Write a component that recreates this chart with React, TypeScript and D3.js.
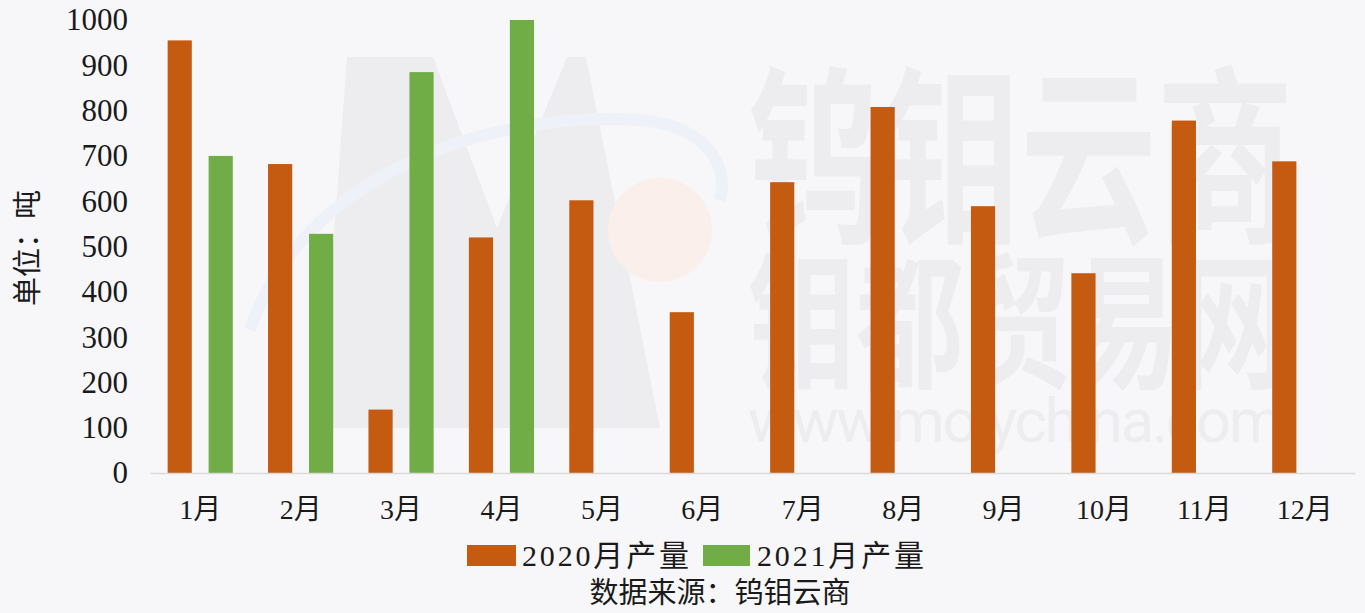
import { useEffect, useRef } from "react";
import * as d3 from "d3";

const W = 1365;
const H = 613;
const MARGIN = { top: 20, right: 10, bottom: 140, left: 150 };
const PLOT_BOTTOM = H - MARGIN.bottom;

const MONTHS = ["1月", "2月", "3月", "4月", "5月", "6月", "7月", "8月", "9月", "10月", "11月", "12月"];
const SERIES = ["2020月产量", "2021月产量"];
const OUTPUT_2020 = [955, 682, 140, 520, 602, 355, 642, 808, 589, 441, 778, 688];
const OUTPUT_2021 = [700, 528, 885, 1000, null, null, null, null, null, null, null, null];
const Y_TICKS = [0, 100, 200, 300, 400, 500, 600, 700, 800, 900, 1000];
const Y_TITLE = "单位：吨";
const SOURCE = "数据来源：钨钼云商";

const COLORS = { "2020月产量": "#c55a11", "2021月产量": "#70ad47" };
const BG = "#f7f7f9";
const WM = "#ededf0";
const FONT = '"Liberation Serif", "Noto Sans CJK SC", serif';
const WM_FONT = '"Noto Sans CJK SC", sans-serif';

export default function App() {
  const svgRef = useRef<SVGSVGElement | null>(null);

  useEffect(() => {
    document.body.style.margin = "0";
    const svg = d3.select(svgRef.current);
    svg.selectAll("*").remove();

    svg.append("rect").attr("width", W).attr("height", H).attr("fill", BG);

    // faint site watermark behind the chart
    const wm = svg.append("g");
    wm.append("path")
      .attr("d", "M320,428 L347,57 L433,57 L497,228 L567,57 L586,57 L660,428 Z")
      .attr("fill", WM);
    wm.append("path")
      .attr("d", "M250,330 C300,180 480,110 640,120 C700,125 730,160 720,200")
      .attr("fill", "none")
      .attr("stroke", "#eef1f7")
      .attr("stroke-width", 12);
    wm.append("circle").attr("cx", 660).attr("cy", 230).attr("r", 52).attr("fill", "#faefea");
    wm.append("text")
      .attr("transform", "translate(748,228) scale(1,1.65)")
      .attr("font-family", WM_FONT)
      .attr("font-weight", 700)
      .attr("font-size", 116)
      .attr("textLength", 545)
      .attr("lengthAdjust", "spacingAndGlyphs")
      .attr("fill", WM)
      .text("钨钼云商");
    wm.append("text")
      .attr("transform", "translate(748,376) scale(1,1.52)")
      .attr("font-family", WM_FONT)
      .attr("font-weight", 700)
      .attr("font-size", 96)
      .attr("textLength", 540)
      .attr("lengthAdjust", "spacingAndGlyphs")
      .attr("fill", WM)
      .text("钼都贸易网");
    wm.append("text")
      .attr("x", 748)
      .attr("y", 442)
      .attr("font-family", '"Roboto", sans-serif')
      .attr("font-size", 62)
      .attr("textLength", 535)
      .attr("fill", WM)
      .text("www.molychina.com");

    const x0 = d3.scaleBand().domain(MONTHS).range([MARGIN.left, W - MARGIN.right]);
    const x1 = d3
      .scaleBand()
      .domain(SERIES)
      .range([0, x0.bandwidth()])
      .paddingInner(0.41)
      .paddingOuter(0.43);
    const y = d3.scaleLinear().domain([0, 1000]).range([PLOT_BOTTOM, MARGIN.top]);

    const rows = MONTHS.map((m, i) => ({
      month: m,
      values: [
        { key: SERIES[0], value: OUTPUT_2020[i] },
        { key: SERIES[1], value: OUTPUT_2021[i] },
      ],
    }));

    const groups = svg
      .append("g")
      .selectAll("g")
      .data(rows)
      .join("g")
      .attr("transform", (d) => `translate(${x0(d.month)},0)`);

    groups
      .selectAll("rect")
      .data((d) => d.values.filter((v) => v.value != null))
      .join("rect")
      .attr("x", (d) => x1(d.key)!)
      .attr("y", (d) => y(d.value as number))
      .attr("width", x1.bandwidth())
      .attr("height", (d) => PLOT_BOTTOM - y(d.value as number))
      .attr("fill", (d) => COLORS[d.key]);

    // x axis
    const xAxis = svg
      .append("g")
      .attr("transform", `translate(0,${PLOT_BOTTOM})`)
      .call(d3.axisBottom(x0).tickSize(0).tickPadding(26));
    xAxis.select(".domain").attr("stroke", "#d9d9d9").attr("stroke-width", 1.5);
    xAxis
      .selectAll(".tick text")
      .attr("fill", "#1a1a1a")
      .attr("font-size", 28)
      .attr("font-family", FONT);

    // y axis
    const yAxis = svg
      .append("g")
      .attr("transform", `translate(${MARGIN.left - 22},0)`)
      .call(d3.axisLeft(y).tickValues(Y_TICKS).tickFormat(d3.format("d")).tickSize(0).tickPadding(0));
    yAxis.select(".domain").remove();
    yAxis
      .selectAll(".tick text")
      .attr("fill", "#1a1a1a")
      .attr("font-size", 31)
      .attr("font-family", FONT);

    svg
      .append("text")
      .attr("transform", "translate(38,248) rotate(-90)")
      .attr("text-anchor", "middle")
      .attr("font-size", 29)
      .attr("font-family", FONT)
      .attr("fill", "#1a1a1a")
      .text(Y_TITLE);

    // legend
    const legendPos = [
      { key: SERIES[0], sx: 467, sw: 49, tx: 522 },
      { key: SERIES[1], sx: 703, sw: 47, tx: 757 },
    ];
    const legend = svg.append("g");
    legendPos.forEach((l) => {
      legend
        .append("rect")
        .attr("x", l.sx)
        .attr("y", 545)
        .attr("width", l.sw)
        .attr("height", 21)
        .attr("fill", COLORS[l.key]);
      legend
        .append("text")
        .attr("x", l.tx)
        .attr("y", 566)
        .attr("font-size", 30)
        .attr("textLength", 167)
        .attr("font-family", FONT)
        .attr("fill", "#1a1a1a")
        .text(l.key);
    });

    svg
      .append("text")
      .attr("x", 720)
      .attr("y", 603)
      .attr("text-anchor", "middle")
      .attr("font-size", 29)
      .attr("font-family", FONT)
      .attr("fill", "#1a1a1a")
      .text(SOURCE);
  }, []);

  return (
    <svg
      ref={svgRef}
      width={W}
      height={H}
      viewBox={`0 0 ${W} ${H}`}
      style={{ display: "block", position: "absolute", left: 0, top: 0 }}
    />
  );
}
